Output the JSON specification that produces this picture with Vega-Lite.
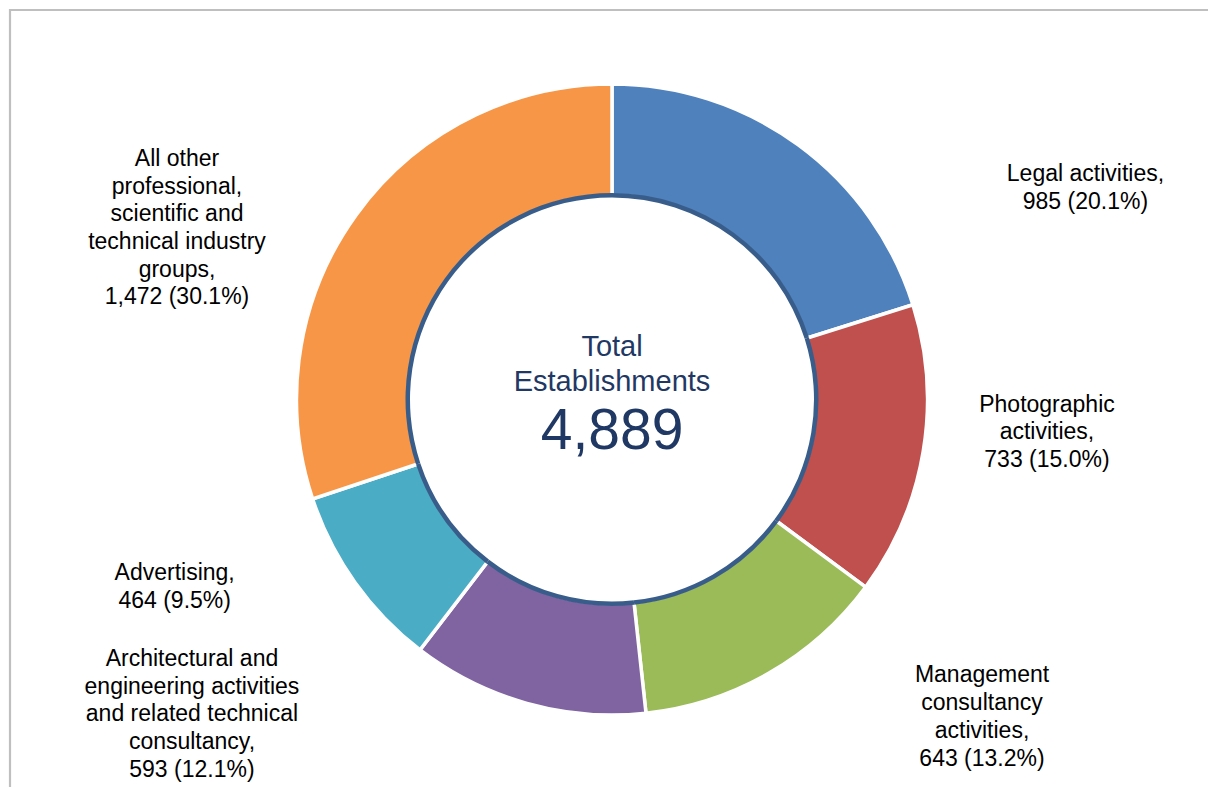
{
  "$schema": "https://vega.github.io/schema/vega-lite/v6.json",
  "width": 1204,
  "height": 779,
  "autosize": {"type": "none"},
  "padding": {"left": 10, "top": 10, "right": -6, "bottom": -2},
  "background": "#ffffff",
  "config": {"view": {"stroke": null}},
  "datasets": {
    "segments": [
      {"order": 1, "category": "Legal activities", "count": 985, "label": "Legal activities,\n985 (20.1%)"},
      {"order": 2, "category": "Photographic activities", "count": 733, "label": "Photographic\nactivities,\n733 (15.0%)"},
      {"order": 3, "category": "Management consultancy activities", "count": 643, "label": "Management\nconsultancy\nactivities,\n643 (13.2%)"},
      {"order": 4, "category": "Architectural and engineering activities and related technical consultancy", "count": 593, "label": "Architectural and\nengineering activities\nand related technical\nconsultancy,\n593 (12.1%)"},
      {"order": 5, "category": "Advertising", "count": 464, "label": "Advertising,\n464 (9.5%)"},
      {"order": 6, "category": "All other professional, scientific and technical industry groups", "count": 1472, "label": "All other\nprofessional,\nscientific and\ntechnical industry\ngroups,\n1,472 (30.1%)"}
    ],
    "center": [{"title": "Total Establishments", "total": 4889}]
  },
  "layer": [
    {
      "data": {"name": "center"},
      "mark": {"type": "rect", "fill": null, "fillOpacity": 0, "stroke": "#bfbfbf", "strokeWidth": 2.2},
      "encoding": {}
    },
    {
      "data": {"name": "segments"},
      "mark": {"type": "arc", "outerRadius": 315.5, "innerRadius": 204, "stroke": "#ffffff", "strokeWidth": 3.5},
      "encoding": {
        "theta": {"field": "count", "type": "quantitative", "stack": true},
        "order": {"field": "order", "type": "quantitative"},
        "color": {
          "field": "category",
          "type": "nominal",
          "scale": {
            "domain": ["Legal activities", "Photographic activities", "Management consultancy activities", "Architectural and engineering activities and related technical consultancy", "Advertising", "All other professional, scientific and technical industry groups"],
            "range": ["#4f81bd", "#c0504d", "#9bbb59", "#8064a2", "#4bacc6", "#f79646"]
          },
          "legend": null
        }
      }
    },
    {
      "data": {"name": "segments"},
      "mark": {"type": "arc", "outerRadius": 206.5, "innerRadius": 202, "fill": "#385d8a", "strokeWidth": 0},
      "encoding": {
        "theta": {"field": "count", "type": "quantitative", "stack": true},
        "order": {"field": "order", "type": "quantitative"}
      }
    },
    {
      "data": {"name": "segments"},
      "mark": {
        "type": "text",
        "font": "Liberation Sans",
        "fontSize": 23,
        "lineHeight": 27.7,
        "lineBreak": "\n",
        "align": "center",
        "baseline": "middle",
        "color": "#000000",
        "radius": {"expr": "[524.2, 435.0, 461.6, 493.8, 470.5, 497.1][datum.order - 1]"},
        "thetaOffset": {"expr": "[0.4943, -0.1536, -0.4089, 0.7442, 0.2410, -0.1199][datum.order - 1]"}
      },
      "encoding": {
        "theta": {"field": "count", "type": "quantitative", "stack": true},
        "order": {"field": "order", "type": "quantitative"},
        "text": {"field": "label", "type": "nominal"}
      }
    },
    {
      "data": {"name": "center"},
      "mark": {"type": "text", "font": "Liberation Sans", "fontSize": 29, "lineHeight": 34.5, "lineBreak": " ", "align": "center", "baseline": "middle", "dy": -52.5, "color": "#1f3864"},
      "encoding": {"text": {"field": "title", "type": "nominal"}}
    },
    {
      "data": {"name": "center"},
      "mark": {"type": "text", "font": "Liberation Sans", "fontSize": 57, "align": "center", "baseline": "middle", "dy": 32.5, "color": "#1f3864"},
      "encoding": {"text": {"field": "total", "type": "quantitative", "format": ","}}
    }
  ]
}
